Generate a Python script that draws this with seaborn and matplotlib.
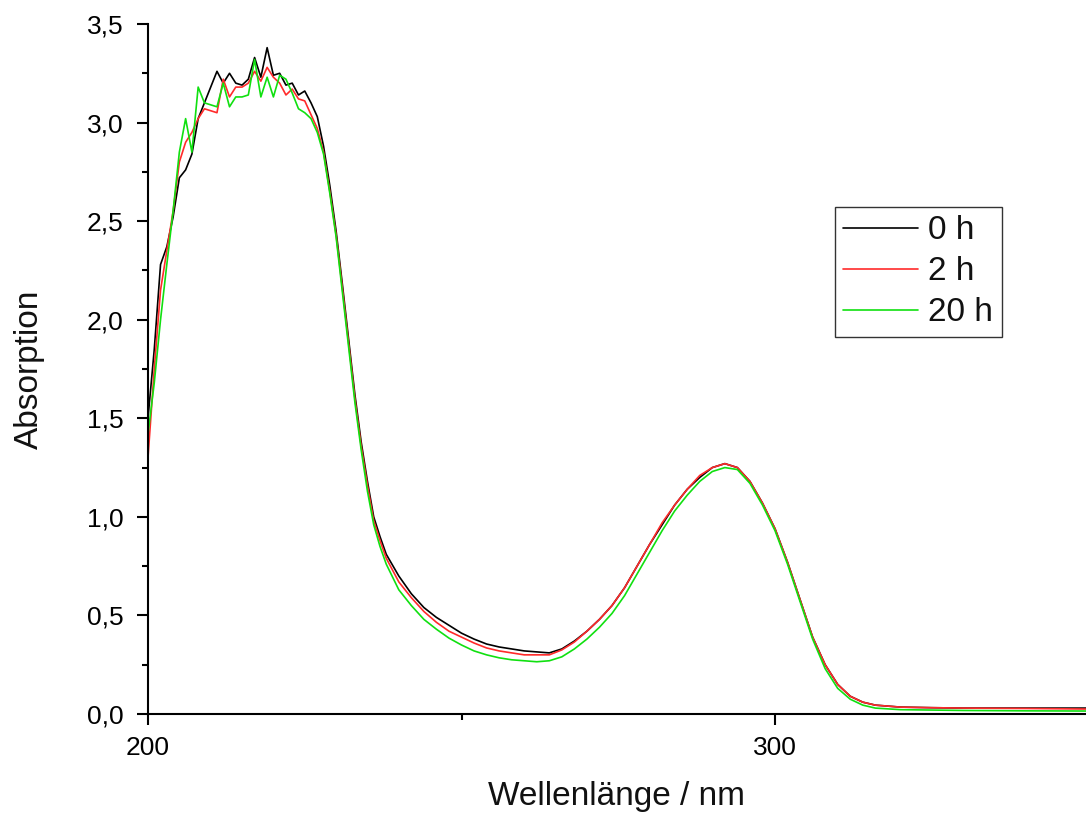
import numpy as np
import pandas as pd
import matplotlib
matplotlib.use("Agg")
import matplotlib.pyplot as plt
from matplotlib.ticker import FixedLocator, FixedFormatter
import seaborn as sns

# ---- data ----
wavelength = list(range(200, 239)) + list(range(240, 318, 2)) + [320, 325, 330, 340, 350]

abs_0h = [1.50, 1.85, 2.28, 2.37, 2.52, 2.72, 2.76, 2.84, 3.02, 3.10, 3.18, 3.26, 3.20, 3.25, 3.20,
          3.19, 3.22, 3.33, 3.23, 3.38, 3.24, 3.25, 3.19, 3.20, 3.14, 3.16, 3.10, 3.03, 2.88, 2.68,
          2.45, 2.18, 1.90, 1.62, 1.38, 1.18, 1.00, 0.90, 0.81,
          0.70, 0.61, 0.54, 0.49, 0.45, 0.41, 0.38, 0.355, 0.34, 0.33, 0.32, 0.315, 0.31, 0.33, 0.37,
          0.42, 0.48, 0.55, 0.64, 0.75, 0.86, 0.96, 1.06, 1.14, 1.20, 1.25, 1.27, 1.25, 1.18, 1.07,
          0.94, 0.77, 0.58, 0.39, 0.25, 0.15, 0.09, 0.06, 0.045,
          0.035, 0.032, 0.03, 0.03, 0.03]

abs_2h = [1.30, 1.75, 2.15, 2.35, 2.55, 2.80, 2.90, 2.95, 3.02, 3.07, 3.06, 3.05, 3.22, 3.13, 3.18,
          3.18, 3.20, 3.26, 3.21, 3.28, 3.23, 3.20, 3.14, 3.17, 3.12, 3.11, 3.04, 2.97, 2.85, 2.65,
          2.43, 2.16, 1.88, 1.60, 1.36, 1.16, 0.98, 0.88, 0.79,
          0.67, 0.59, 0.52, 0.465, 0.42, 0.39, 0.36, 0.335, 0.32, 0.31, 0.30, 0.30, 0.30, 0.325, 0.365,
          0.42, 0.48, 0.55, 0.64, 0.75, 0.86, 0.97, 1.06, 1.14, 1.21, 1.25, 1.27, 1.25, 1.18, 1.07,
          0.94, 0.77, 0.58, 0.39, 0.25, 0.15, 0.09, 0.06, 0.045,
          0.035, 0.032, 0.03, 0.028, 0.025]

abs_20h = [1.42, 1.68, 2.00, 2.28, 2.55, 2.85, 3.02, 2.85, 3.18, 3.10, 3.09, 3.08, 3.20, 3.08, 3.13,
           3.13, 3.14, 3.32, 3.13, 3.23, 3.13, 3.24, 3.22, 3.15, 3.07, 3.05, 3.02, 2.95, 2.84, 2.64,
           2.42, 2.14, 1.86, 1.58, 1.34, 1.13, 0.96, 0.85, 0.76,
           0.63, 0.55, 0.48, 0.43, 0.385, 0.35, 0.32, 0.30, 0.285, 0.275, 0.27, 0.265, 0.27, 0.29, 0.33,
           0.38, 0.44, 0.51, 0.60, 0.71, 0.82, 0.93, 1.03, 1.11, 1.18, 1.23, 1.25, 1.24, 1.17, 1.06,
           0.93, 0.76, 0.57, 0.38, 0.23, 0.13, 0.075, 0.045, 0.03,
           0.022, 0.02, 0.018, 0.016, 0.015]

series_labels = ["0 h", "2 h", "20 h"]
series_colors = ["#000000", "#ff2a2a", "#10e010"]

y_ticks = [0.0, 0.5, 1.0, 1.5, 2.0, 2.5, 3.0, 3.5]
y_tick_labels = ["0,0", "0,5", "1,0", "1,5", "2,0", "2,5", "3,0", "3,5"]
x_ticks = [200, 300]
x_tick_labels = ["200", "300"]

# ---- build long-form frame ----
df = pd.concat([
    pd.DataFrame({"Wellenlänge": wavelength, "Absorption": vals, "Zeit": lab})
    for vals, lab in zip([abs_0h, abs_2h, abs_20h], series_labels)
], ignore_index=True)

sns.set_style("ticks")
plt.rcParams["font.family"] = ["Liberation Sans", "DejaVu Sans"]
plt.rcParams["text.color"] = "black"

fig = plt.figure(figsize=(10.86, 8.23), dpi=100)
ax = fig.add_axes([148 / 1086, 1 - 714 / 823, 1 - 148 / 1086, (714 - 24) / 823])

sns.lineplot(data=df, x="Wellenlänge", y="Absorption", hue="Zeit",
             palette=dict(zip(series_labels, series_colors)), hue_order=series_labels,
             linewidth=1.2, ax=ax, legend=True, sort=False, estimator=None)

ax.set_xlim(200, 349.6)
ax.set_ylim(0, 3.5)

ax.xaxis.set_major_locator(FixedLocator(x_ticks))
ax.xaxis.set_major_formatter(FixedFormatter(x_tick_labels))
ax.xaxis.set_minor_locator(FixedLocator([250]))
ax.yaxis.set_major_locator(FixedLocator(y_ticks))
ax.yaxis.set_major_formatter(FixedFormatter(y_tick_labels))
ax.yaxis.set_minor_locator(FixedLocator([0.25, 0.75, 1.25, 1.75, 2.25, 2.75, 3.25]))

ax.tick_params(axis="both", which="major", direction="out", length=8, width=1.5,
               labelsize=19, color="black", labelcolor="black")
ax.tick_params(axis="x", which="major", pad=8)
ax.tick_params(axis="y", which="major", pad=9.5)
ax.tick_params(axis="both", which="minor", direction="out", length=4.5, width=1.5, color="black")

for side in ["top", "right"]:
    ax.spines[side].set_visible(False)
for side in ["left", "bottom"]:
    ax.spines[side].set_linewidth(1.5)
    ax.spines[side].set_color("black")

ax.set_xlabel("Wellenlänge / nm", fontsize=24, labelpad=15, color="#111111")
ax.set_ylabel("Absorption", fontsize=24, labelpad=30, color="#111111")

leg = ax.legend(loc="upper left", bbox_to_anchor=(835 / 1086, 1 - 207 / 823),
                bbox_transform=fig.transFigure, frameon=True, fancybox=False,
                fontsize=24, handlelength=2.25, handletextpad=0.3, borderpad=0.25,
                labelspacing=0.3, borderaxespad=0)
leg.get_frame().set_edgecolor("black")
leg.get_frame().set_linewidth(1.0)
for line in leg.get_lines():
    line.set_linewidth(1.2)
for txt in leg.get_texts():
    txt.set_color("#111111")

fig.savefig("out.png", dpi=100, facecolor="white")
